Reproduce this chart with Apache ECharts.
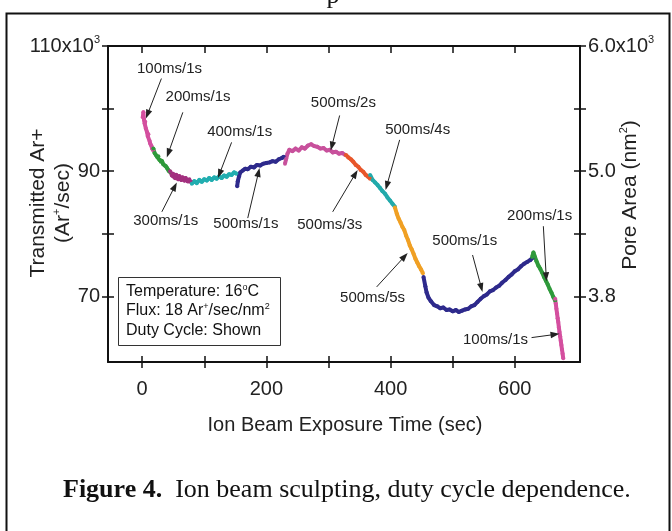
<!DOCTYPE html>
<html><head><meta charset="utf-8">
<script src="https://cdn.jsdelivr.net/npm/echarts@6/dist/echarts.min.js"></script>
<style>html,body{margin:0;padding:0;background:#fff}#c{width:672px;height:531px}</style>
</head><body><div id="c"></div>
<script>
// ---------------- data ----------------
const xTicks = [0, 100, 200, 300, 400, 500, 600];
const xLabelValues = [0, 200, 400, 600];
const yTicks = [70, 80, 90, 100, 110];
const yLabelValues = [70, 90, 110];
const yLeftText = {110: '110x10', 90: '90', 70: '70'};
const yRightText = {110: '6.0x10', 90: '5.0', 70: '3.8'};

// Transmitted Ar+ (x10^3 /sec) vs time (sec), one array per duty-cycle segment
const seg100ms1sA = [[1,98.6],[2,99.4],[3,98.2],[4,97.6],[5,97.9],[6,96.8],[8,96.2],[9,95.6],[10,95.9],[12,94.8],[13,94.4],[15,94.0],[16,93.6],[18,93.3]];
const seg200ms1sA = [[18,93.6],[20,92.9],[22,92.6],[24,92.3],[26,92.4],[28,91.8],[30,91.5],[32,91.6],[34,91.1],[36,90.9],[38,90.8],[40,90.5],[42,90.2],[44,89.9]];
const seg300ms1s = [[45,90.0],[48,89.3],[50,89.6],[53,88.9],[55,89.4],[58,88.7],[60,89.2],[63,88.6],[65,89.0],[68,88.5],[70,88.9],[73,88.4],[76,88.7],[79,88.3]];
const seg400ms1s = [[80,88.0],[84,88.4],[88,88.1],[92,88.6],[96,88.3],[100,88.7],[104,88.5],[108,88.9],[112,88.6],[116,89.0],[120,88.8],[124,89.2],[128,88.9],[132,89.3],[136,89.1],[140,89.5],[144,89.4],[148,89.8],[152,89.6]];
const seg500ms1sA = [[153,87.6],[154,88.4],[156,89.2],[158,89.8],[162,90.1],[166,90.4],[170,90.3],[175,90.7],[180,90.6],[185,91.0],[190,90.9],[195,91.2],[200,91.3],[205,91.4],[210,91.6],[215,91.5],[220,91.9],[225,92.1],[228,92.3]];
const seg500ms2s = [[230,91.2],[232,92.0],[234,92.8],[237,93.4],[242,93.2],[247,93.6],[252,93.3],[257,93.8],[262,93.6],[267,94.1],[272,94.3],[277,94.0],[282,93.9],[287,93.6],[292,93.7],[297,93.3],[302,93.4],[307,93.0],[312,93.1],[317,92.8],[322,92.9],[327,92.6]];
const seg500ms3s = [[328,92.6],[332,92.2],[336,91.9],[340,91.5],[344,91.0],[348,90.7],[352,90.2],[356,89.9],[360,89.4],[364,89.1],[367,88.8]];
const seg500ms4s = [[367,89.4],[371,88.6],[375,88.2],[379,87.8],[383,87.3],[387,86.8],[391,86.4],[395,85.8],[399,85.3],[403,84.8],[407,84.3]];
const seg500ms5s = [[407,84.2],[410,83.2],[413,82.4],[416,81.8],[419,81.1],[422,80.6],[425,79.7],[428,79.0],[431,78.1],[434,77.5],[437,76.8],[440,76.0],[443,75.4],[446,74.8],[449,74.3],[452,73.7]];
const seg500ms1sB = [[453,73.1],[456,71.6],[458,70.6],[461,69.8],[465,69.2],[470,68.6],[475,68.4],[480,68.1],[485,68.2],[490,67.8],[495,67.9],[500,67.6],[505,67.8],[510,67.5],[515,67.7],[520,67.9],[525,68.0],[530,68.4],[535,68.6],[540,69.1],[545,69.6],[550,70.0],[555,70.3],[560,70.8],[565,71.0],[570,71.4],[575,71.7],[580,72.2],[585,72.6],[590,73.1],[595,73.5],[600,74.0],[605,74.3],[610,74.8],[615,75.2],[620,75.5],[625,75.8],[629,76.2]];
const seg200ms1sB = [[628,76.3],[630,77.0],[632,76.4],[635,75.6],[638,74.9],[641,74.4],[644,73.8],[647,73.1],[650,72.5],[653,71.9],[656,71.2],[659,70.6],[662,69.9],[665,69.3]];
const seg100ms1sB = [[665,69.6],[666,68.8],[667,68.0],[668,67.3],[669,66.5],[670,65.9],[671,65.0],[672,64.3],[673,63.6],[674,62.9],[675,62.2],[676,61.5],[677,60.8],[678,60.1]];

// annotations: text, label anchor, arrow start, arrow tip (data coords)
const annotations = [
  ['100ms/1s', [44, 106.4], [31, 104.8], [6, 98.4]],
  ['200ms/1s', [90, 101.8], [65.5, 99.4], [39.7, 92.2]],
  ['400ms/1s', [157, 96.2], [144, 94.6], [122, 88.9]],
  ['300ms/1s', [38, 82.0], [31.7, 83.5], [55.8, 88.2]],
  ['500ms/1s', [167, 81.6], [170, 82.5], [189, 90.5]],
  ['500ms/2s', [324, 100.9], [318, 98.9], [303.6, 93.3]],
  ['500ms/4s', [443.6, 96.6], [414.6, 95.0], [392, 87.0]],
  ['500ms/3s', [302, 81.4], [306.8, 83.5], [347, 90.2]],
  ['500ms/5s', [371, 69.8], [377.6, 71.5], [427.5, 76.9]],
  ['500ms/1s', [519.6, 78.8], [532, 76.6], [548, 70.7]],
  ['200ms/1s', [640, 82.8], [646, 81.2], [651, 72.4]],
  ['100ms/1s', [569, 63.1], [627, 63.4], [672, 64.0]]
];

// ---------------- chart ----------------
const FONT = 'Liberation Sans, Arial, sans-serif';
const SERIF = 'Liberation Serif, Times New Roman, serif';
const segs = [
  [seg100ms1sA, '#d44f9f'], [seg200ms1sA, '#2f9a3b'], [seg300ms1s, '#a3307f'],
  [seg400ms1s, '#22aeb0'], [seg500ms1sA, '#2e2a8c'], [seg500ms2s, '#c8519c'],
  [seg500ms3s, '#e8572b'], [seg500ms4s, '#22aaab'], [seg500ms5s, '#f0a024'],
  [seg500ms1sB, '#2e2a8c'], [seg200ms1sB, '#2f9a3b'], [seg100ms1sB, '#d44f9f']
];
const chart = echarts.init(document.getElementById('c'), null, {renderer: 'canvas'});
const X_MIN = -55, X_MAX = 705, Y_MIN = 59.5, Y_MAX = 110;
const axisLineStyle = {color: '#111', width: 2};
const supRich = {
  a: {fontSize: 20, fontFamily: FONT, color: '#222'},
  s: {fontSize: 11, fontFamily: FONT, color: '#222', verticalAlign: 'top', padding: [0, 0, 12, 0]}
};
const tickStyle = {color: '#111', width: 1.5};
const option = {
  animation: false,
  grid: {left: 108, top: 46, right: 92, bottom: 169, containLabel: false},
  xAxis: [
    {type: 'value', position: 'bottom', min: X_MIN, max: X_MAX,
      axisLine: {show: true, onZero: false, lineStyle: axisLineStyle},
      axisTick: {show: true, length: 6, customValues: xTicks, lineStyle: tickStyle},
      axisLabel: {show: true, customValues: xLabelValues, fontSize: 20, fontFamily: FONT, color: '#222', margin: 17},
      splitLine: {show: false}},
    {type: 'value', position: 'bottom', min: X_MIN, max: X_MAX,
      axisLine: {show: false, onZero: false},
      axisTick: {show: true, inside: true, length: 6, customValues: xTicks, lineStyle: tickStyle},
      axisLabel: {show: false}, splitLine: {show: false}},
    {type: 'value', position: 'top', min: X_MIN, max: X_MAX,
      axisLine: {show: true, onZero: false, lineStyle: axisLineStyle},
      axisTick: {show: true, inside: true, length: 7, customValues: xTicks, lineStyle: tickStyle},
      axisLabel: {show: false}, splitLine: {show: false}}
  ],
  yAxis: [
    {type: 'value', position: 'left', min: Y_MIN, max: Y_MAX,
      axisLine: {show: true, onZero: false, lineStyle: axisLineStyle},
      axisTick: {show: true, length: 6, customValues: yTicks, lineStyle: tickStyle},
      axisLabel: {show: true, customValues: yLabelValues, margin: 8,
        formatter: v => v === 110 ? '{a|' + yLeftText[v] + '}{s|3}' : '{a|' + yLeftText[v] + '}', rich: supRich},
      splitLine: {show: false}},
    {type: 'value', position: 'left', min: Y_MIN, max: Y_MAX,
      axisLine: {show: false, onZero: false},
      axisTick: {show: true, inside: true, length: 6, customValues: [70, 80, 90, 100], lineStyle: tickStyle},
      axisLabel: {show: false}, splitLine: {show: false}},
    {type: 'value', position: 'right', min: Y_MIN, max: Y_MAX,
      axisLine: {show: true, onZero: false, lineStyle: axisLineStyle},
      axisTick: {show: true, length: 6, customValues: yTicks, lineStyle: tickStyle},
      axisLabel: {show: true, customValues: yLabelValues, margin: 8,
        formatter: v => v === 110 ? '{a|' + yRightText[v] + '}{s|3}' : '{a|' + yRightText[v] + '}', rich: supRich},
      splitLine: {show: false}},
    {type: 'value', position: 'right', min: Y_MIN, max: Y_MAX,
      axisLine: {show: false, onZero: false},
      axisTick: {show: true, inside: true, length: 6, customValues: [70, 80, 90, 100], lineStyle: tickStyle},
      axisLabel: {show: false}, splitLine: {show: false}}
  ],
  series: segs.map(([d, c]) => ({
    type: 'line', xAxisIndex: 0, yAxisIndex: 0, data: d, showSymbol: true, symbol: 'circle', symbolSize: 4,
    itemStyle: {color: c}, lineStyle: {color: c, width: 4, join: 'round'}, z: 3
  }))
};
chart.setOption(option);

const g = [];
// outer frame
g.push({type: 'polyline', shape: {points: [[6.5, 540], [6.5, 13.5], [669.5, 13.5], [669.5, 540]]},
  style: {stroke: '#111', lineWidth: 2, fill: null}, z: 10});
// clipped glyph from the text above the figure (only its descender shows)
g.push({type: 'text', x: 333, y: 9, style: {text: 'p', font: '26px ' + SERIF, fill: '#111', textAlign: 'center', textVerticalAlign: 'bottom'}});
// annotations
annotations.forEach(([txt, lab, from, tip]) => {
  const L = chart.convertToPixel({xAxisIndex: 0, yAxisIndex: 0}, lab);
  const S = chart.convertToPixel({xAxisIndex: 0, yAxisIndex: 0}, from);
  const P = chart.convertToPixel({xAxisIndex: 0, yAxisIndex: 0}, tip);
  const dx = P[0] - S[0], dy = P[1] - S[1], len = Math.hypot(dx, dy);
  const ux = dx / len, uy = dy / len, nx = -uy, ny = ux;
  const HL = 9, HW = 3.2;
  const B = [P[0] - ux * HL, P[1] - uy * HL];
  g.push({type: 'line', shape: {x1: S[0], y1: S[1], x2: B[0] + ux * 2, y2: B[1] + uy * 2},
    style: {stroke: '#222', lineWidth: 1}, z: 20});
  g.push({type: 'polygon', shape: {points: [P, [B[0] + nx * HW, B[1] + ny * HW], [B[0] - nx * HW, B[1] - ny * HW]]},
    style: {fill: '#222'}, z: 20});
  g.push({type: 'text', x: L[0], y: L[1], style: {text: txt, fill: '#222', font: '15px ' + FONT,
    textAlign: 'center', textVerticalAlign: 'middle'}, z: 20});
});
// info box
const boxRich = {a: {fontSize: 16, fontFamily: FONT, fill: '#111'}, s: {fontSize: 9, fontFamily: FONT, fill: '#111', verticalAlign: 'top', padding: [0, 0, 9, 0]}};
g.push({type: 'rect', shape: {x: 118.5, y: 277.5, width: 162, height: 68},
  style: {fill: '#fff', stroke: '#333', lineWidth: 1}, z: 15});
g.push({type: 'text', x: 126, y: 292, z: 16, style: {
  text: '{a|Temperature: 16}{s|o}{a|C}', textVerticalAlign: 'middle', rich: boxRich}});
g.push({type: 'text', x: 126, y: 311, z: 16, style: {
  text: '{a|Flux: 18 Ar}{s|+}{a|/sec/nm}{s|2}', textVerticalAlign: 'middle', rich: boxRich}});
g.push({type: 'text', x: 126, y: 331, z: 16, style: {
  text: 'Duty Cycle: Shown', textVerticalAlign: 'middle', font: '16px ' + FONT, fill: '#111'}});
// axis titles
g.push({type: 'text', x: 345, y: 425, style: {text: 'Ion Beam Exposure Time (sec)', font: '20px ' + FONT, fill: '#222', textAlign: 'center', textVerticalAlign: 'middle'}});
g.push({type: 'text', x: 38, y: 203, rotation: Math.PI / 2, style: {text: 'Transmitted Ar+', font: '21px ' + FONT, fill: '#222', textAlign: 'center', textVerticalAlign: 'middle'}});
g.push({type: 'text', x: 63, y: 203, rotation: Math.PI / 2, style: {
  text: '{a|(Ar}{s|+}{a|/sec)}', textAlign: 'center', textVerticalAlign: 'middle',
  rich: {a: {fontSize: 21, fontFamily: FONT, fill: '#222'}, s: {fontSize: 11, fontFamily: FONT, fill: '#222', verticalAlign: 'top', padding: [0, 0, 12, 0]}}}});
g.push({type: 'text', x: 630, y: 195, rotation: Math.PI / 2, style: {
  text: '{a|Pore Area (nm}{s|2}{a|)}', textAlign: 'center', textVerticalAlign: 'middle',
  rich: {a: {fontSize: 21, fontFamily: FONT, fill: '#222'}, s: {fontSize: 11, fontFamily: FONT, fill: '#222', verticalAlign: 'top', padding: [0, 0, 12, 0]}}}});
// caption
g.push({type: 'text', x: 63, y: 490, style: {
  text: '{b|Figure 4.}{r|  Ion beam sculpting, duty cycle dependence.}', textVerticalAlign: 'middle',
  rich: {b: {fontSize: 26, fontWeight: 'bold', fontFamily: SERIF, fill: '#111'},
         r: {fontSize: 26, fontFamily: SERIF, fill: '#111'}}}});
chart.setOption({graphic: g});
</script>
</body></html>
